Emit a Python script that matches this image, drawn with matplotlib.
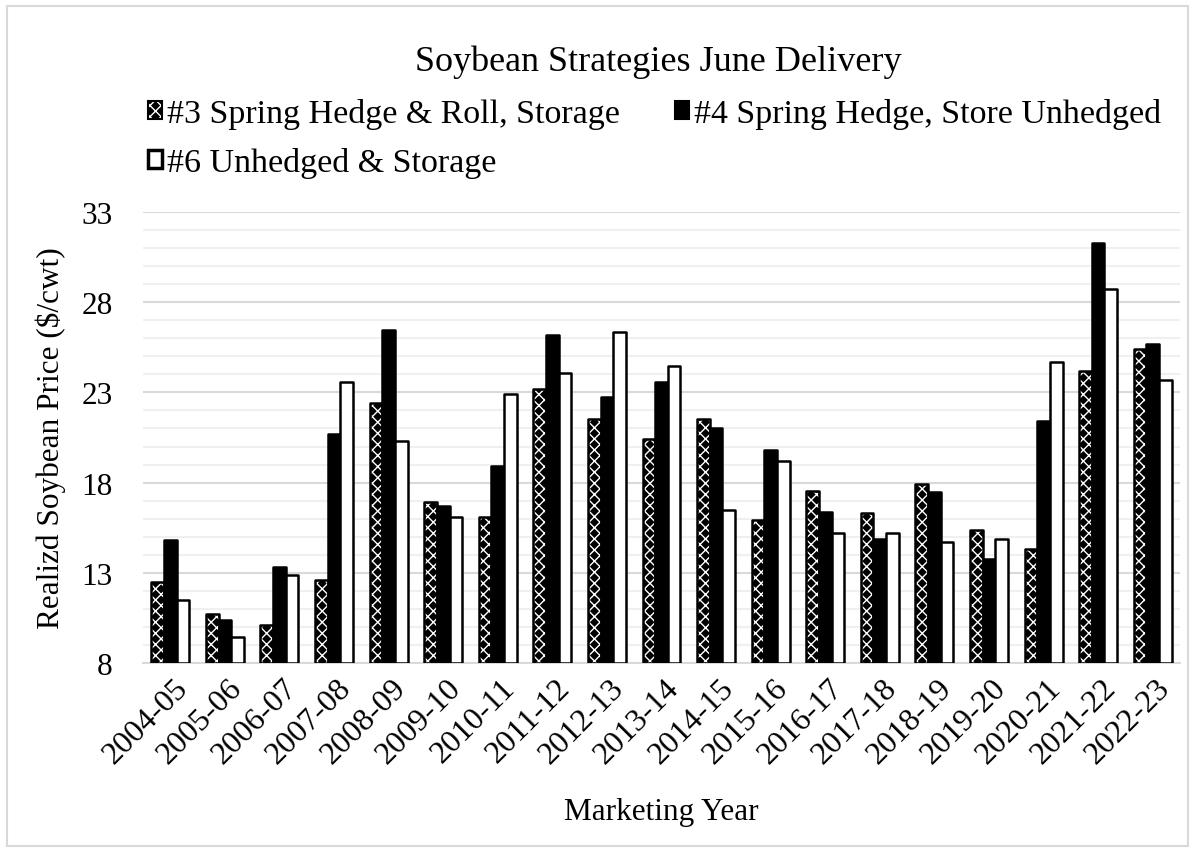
import numpy as np
import matplotlib
matplotlib.use("Agg")
import matplotlib.pyplot as plt
import matplotlib.transforms as mtransforms
from matplotlib.patches import Patch, Rectangle
from matplotlib.legend_handler import HandlerTuple

plt.rcParams['font.family'] = ['Liberation Serif', 'DejaVu Serif']
plt.rcParams['hatch.linewidth'] = 1.0

years = ["2004-05", "2005-06", "2006-07", "2007-08", "2008-09", "2009-10", "2010-11",
         "2011-12", "2012-13", "2013-14", "2014-15", "2015-16", "2016-17", "2017-18",
         "2018-19", "2019-20", "2020-21", "2021-22", "2022-23"]
s3_hedge_roll = [12.5, 10.7, 10.1, 12.6, 22.4, 16.9, 16.1, 23.2, 21.5, 20.4, 21.5, 15.9,
                 17.55, 16.3, 17.9, 15.4, 14.3, 24.2, 25.4]
s4_hedge_unhedged = [14.8, 10.4, 13.3, 20.7, 26.45, 16.7, 18.9, 26.2, 22.75, 23.55, 21.0, 19.8,
                     16.35, 14.85, 17.5, 13.75, 21.4, 31.3, 25.7]
s6_unhedged = [11.5, 9.45, 12.9, 23.55, 20.3, 16.1, 22.9, 24.1, 26.35, 24.45, 16.5, 19.2,
               15.2, 15.2, 14.7, 14.85, 24.7, 28.75, 23.7]
labels = ["#3 Spring Hedge & Roll, Storage", "#4 Spring Hedge, Store Unhedged",
          "#6 Unhedged & Storage"]
yticks = [8, 13, 18, 23, 28, 33]

W, H = 1195, 854
fig = plt.figure(figsize=(W / 100, H / 100), dpi=100)
fig.patches.append(Rectangle((7 / W, 7 / H), (W - 14) / W, (H - 14) / H,
                             transform=fig.transFigure, fill=False,
                             edgecolor='#d9d9d9', linewidth=1.5))

ax = fig.add_axes([143 / W, 1 - 664 / H, (1180 - 143) / W, (664 - 213) / H])
x = np.arange(len(years))
w = 0.232
lw = 1.8
hatch = 'xxx'

# series #3: black with white hatch, then black outline
ax.bar(x - w, np.array(s3_hedge_roll) - 8, w, bottom=8, color='black', edgecolor='white',
       linewidth=0, hatch=hatch, zorder=3)
ax.bar(x - w, np.array(s3_hedge_roll) - 8, w, bottom=8, fill=False, edgecolor='black',
       linewidth=lw, zorder=4, joinstyle='round')
ax.bar(x, np.array(s4_hedge_unhedged) - 8, w, bottom=8, color='black', edgecolor='black',
       linewidth=lw, zorder=3, joinstyle='round')
ax.bar(x + w, np.array(s6_unhedged) - 8, w, bottom=8, color='white', edgecolor='black',
       linewidth=lw, zorder=3, joinstyle='round')

ax.set_xlim(-0.5, len(years) - 0.5)
ax.set_ylim(8, 33)
ax.set_yticks(yticks)
ax.set_yticks(np.arange(8, 34, 1), minor=True)
ax.grid(axis='y', which='minor', color='#f0f0f0', linewidth=1.5, zorder=0)
ax.grid(axis='y', which='major', color='#d9d9d9', linewidth=1.5, zorder=1)
for s in ['top', 'right', 'left']:
    ax.spines[s].set_visible(False)
ax.spines['bottom'].set_color('#d9d9d9')
ax.spines['bottom'].set_linewidth(1.5)
ax.tick_params(axis='y', which='both', length=0, labelsize=22.5, pad=22)
ax.tick_params(axis='x', length=0, labelsize=23, pad=12)
ax.set_xticks(x)
ax.set_xticklabels(years, rotation=45, ha='right', va='center', rotation_mode='anchor')
offset = mtransforms.ScaledTranslation(13 / 100, -4 / 100, fig.dpi_scale_trans)
for lab in ax.get_xticklabels():
    lab.set_transform(lab.get_transform() + offset)
ax.set_axisbelow(True)

ax.set_ylabel("Realizd Soybean Price ($/cwt)", fontsize=22.5, labelpad=11)
ax.set_xlabel("Marketing Year", fontsize=22.5, labelpad=20)

fig.text(658 / W, 1 - 62 / H, "Soybean Strategies June Delivery", fontsize=26,
         ha='center', va='center')

h3 = (Patch(facecolor='black', edgecolor='white', linewidth=0, hatch='xxx'),
      Patch(fill=False, edgecolor='black', linewidth=1.5))
h4 = Patch(facecolor='black', edgecolor='black', linewidth=1.5)
h6 = Patch(facecolor='white', edgecolor='black', linewidth=2.5)
fig.legend([h3, h6, h4], [labels[0], labels[2], labels[1]], ncol=2,
           loc='upper left', bbox_to_anchor=(148 / W, 1 - 99 / H),
           frameon=False, fontsize=24.5, handlelength=0.42, handleheight=0.42,
           handletextpad=0.15, columnspacing=1.6, labelspacing=0.54,
           borderpad=0, borderaxespad=0,
           handler_map={tuple: HandlerTuple(ndivide=1)})

fig.savefig("out.png", dpi=100)
